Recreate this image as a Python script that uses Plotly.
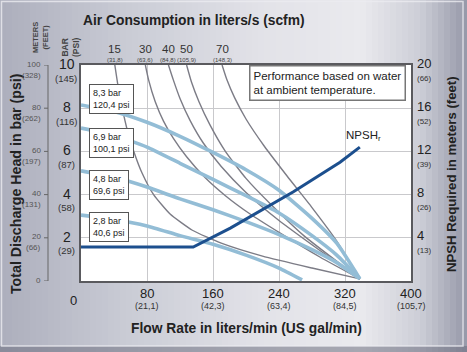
import plotly.graph_objects as go

# ---------------- data ----------------
# Pressure (performance) curves: flow (l/min) vs head (bar)
p83_flow = [0, 40, 80, 120, 160, 200, 240, 280, 310, 338]
p83_bar = [8.15, 7.85, 7.35, 6.7, 5.95, 5.15, 4.2, 2.9, 1.75, 0.1]
p69_flow = [0, 40, 80, 120, 160, 200, 240, 280, 310, 338]
p69_bar = [7.08, 6.75, 6.2, 5.45, 4.7, 3.95, 3.15, 2.1, 1.2, 0.1]
p48_flow = [0, 40, 80, 120, 160, 200, 240, 280, 310, 338]
p48_bar = [5.1, 4.8, 4.35, 3.8, 3.3, 2.75, 2.15, 1.45, 0.85, 0.1]
p28_flow = [0, 40, 80, 120, 160, 200, 240, 268]
p28_bar = [3.05, 2.85, 2.55, 2.1, 1.7, 1.2, 0.6, 0.05]
pressure_labels = ["8,3 bar<br>120,4 psi", "6,9 bar<br>100,1 psi",
                   "4,8 bar<br>69,6 psi", "2,8 bar<br>40,6 psi"]

# Air consumption curves
a15_flow = [41, 45, 50, 56, 64, 74, 88, 108, 135, 170, 220, 280, 338]
a15_bar = [10, 9.0, 8.0, 7.0, 6.0, 5.0, 4.0, 3.1, 2.35, 1.75, 1.15, 0.6, 0.1]
a30_flow = [78, 82, 90, 100, 112, 128, 150, 175, 205, 240, 290, 338]
a30_bar = [10, 9.3, 8.3, 7.4, 6.6, 5.75, 4.8, 3.95, 3.1, 2.25, 1.1, 0.1]
a40_flow = [106, 112, 120, 132, 148, 170, 200, 240, 290, 338]
a40_bar = [10, 9.3, 8.45, 7.45, 6.4, 5.3, 4.1, 2.8, 1.4, 0.1]
a50_flow = [128, 134, 143, 156, 175, 200, 230, 270, 338]
a50_bar = [10, 9.2, 8.3, 7.25, 6.0, 4.75, 3.55, 2.1, 0.1]
a70_flow = [171, 177, 186, 200, 222, 250, 280, 310, 338]
a70_bar = [10, 9.3, 8.5, 7.5, 6.25, 4.85, 3.4, 1.85, 0.1]
air_labels = ["15", "30", "40", "50", "70"]
air_sub = ["(31,8)", "(63,6)", "(84,8)", "(105,9)", "(148,3)"]

# NPSH required (meters)
npsh_flow = [0, 136, 181, 257, 314, 338]
npsh_m = [3.15, 3.15, 4.9, 8.24, 11.0, 12.4]

# Tick labels
x_ticks = [80, 160, 240, 320, 400]
x_sub = ["(21,1)", "(42,3)", "(63,4)", "(84,5)", "(105,7)"]
bar_ticks = [10, 8, 6, 4, 2]
psi_sub = ["(145)", "(116)", "(87)", "(58)", "(29)"]
m_ticks = [100, 80, 60, 40, 20, 0]
ft_sub = ["(328)", "(262)", "(197)", "(131)", "(66)", ""]
r_ticks = [20, 16, 12, 8, 4]
r_sub = ["(66)", "(52)", "(39)", "(26)", "(13)"]

# ---------------- figure ----------------
W, H = 467, 352
L, R, T, B = 81, 56, 65, 71
PW, PH = W - L - R, H - T - B
FONT = "Liberation Sans, Arial, sans-serif"

def px(x):
    return (x - L) / PW

def py(y):
    return (H - B - y) / PH

fig = go.Figure()

BLUE = "#93bdd6"
GRAY = "#7c7c86"

for fx, fy in [(a15_flow, a15_bar), (a30_flow, a30_bar), (a40_flow, a40_bar),
               (a50_flow, a50_bar), (a70_flow, a70_bar)]:
    fig.add_trace(go.Scatter(x=fx, y=fy, mode="lines",
                             line=dict(color=GRAY, width=1.4, shape="spline", smoothing=0.5),
                             hoverinfo="skip", showlegend=False))

pcurves = [(p83_flow, p83_bar), (p69_flow, p69_bar), (p48_flow, p48_bar), (p28_flow, p28_bar)]
for fx, fy in pcurves:
    fig.add_trace(go.Scatter(x=fx, y=fy, mode="lines",
                             line=dict(color=BLUE, width=3.6, shape="spline", smoothing=0.5),
                             hoverinfo="skip", showlegend=False))

fig.add_trace(go.Scatter(x=npsh_flow, y=npsh_m, mode="lines", yaxis="y2",
                         line=dict(color="#1c4f8e", width=3),
                         hoverinfo="skip", showlegend=False))

shapes = []
# background gradient
stops = [(0, (172, 174, 188)), (120, (200, 202, 212)), (260, (226, 226, 232)),
         (360, (234, 234, 238)), (420, (205, 206, 215)), (467, (150, 152, 168))]
def col_at(x):
    for i in range(len(stops) - 1):
        x0, c0 = stops[i]
        x1, c1 = stops[i + 1]
        if x0 <= x <= x1:
            t = (x - x0) / (x1 - x0)
            return "rgb(%d,%d,%d)" % tuple(round(c0[k] + (c1[k] - c0[k]) * t) for k in range(3))
    return "rgb(150,152,168)"
step = 6
for xs in range(0, W, step):
    shapes.append(dict(type="rect", xref="paper", yref="paper", layer="below",
                       x0=px(xs), x1=px(xs + step + 0.5), y0=py(H), y1=py(0),
                       fillcolor=col_at(xs + step / 2), line=dict(width=0)))
# bottom darker band
shapes.append(dict(type="rect", xref="paper", yref="paper", layer="below",
                   x0=px(0), x1=px(W), y0=py(H), y1=py(346),
                   fillcolor="rgba(110,112,128,0.55)", line=dict(width=0)))
# frame
shapes.append(dict(type="rect", xref="paper", yref="paper", layer="below",
                   x0=px(1.5), x1=px(W - 4), y0=py(346), y1=py(1.5),
                   fillcolor="rgba(0,0,0,0)", line=dict(color="rgba(235,235,240,0.8)", width=1.5)))
# plot area white
shapes.append(dict(type="rect", xref="paper", yref="paper", layer="below",
                   x0=0, x1=1, y0=0, y1=1, fillcolor="white", line=dict(width=0)))
# meters axis line and ticks
shapes.append(dict(type="line", xref="paper", yref="paper", x0=px(48), x1=px(48),
                   y0=0, y1=1, line=dict(color="#666", width=1)))
for m in m_ticks:
    shapes.append(dict(type="line", xref="paper", yref="y", x0=px(44), x1=px(48),
                       y0=m / 10, y1=m / 10, line=dict(color="#666", width=1)))

ann = []
def A(text, x, y, size, xref="paper", yref="paper", color="#222", bold=False,
      xanchor="center", yanchor="middle", **kw):
    if bold:
        text = "<b>" + text + "</b>"
    d = dict(text=text, x=x, y=y, xref=xref, yref=yref, showarrow=False,
             font=dict(family=FONT, size=size, color=color),
             xanchor=xanchor, yanchor=yanchor)
    d.update(kw)
    ann.append(d)

# titles
A("Air Consumption in liters/s (scfm)", px(81), py(20), 13.8, bold=True, xanchor="left")
A("Flow Rate in liters/min (US gal/min)", px(246), py(328), 13.8, bold=True)
A("Total Discharge Head in bar (psi)", px(16), py(184), 14.2, bold=True, textangle=-90)
A("NPSH Required in meters (feet)", px(451), py(174), 13.2, bold=True, textangle=-90)
A("METERS<br>(FEET)", px(40), py(38), 7.5, bold=True, color="#444", textangle=-90)
A("BAR<br>(PSI)", px(70), py(47), 8.5, bold=True, color="#444", textangle=-90)

# bottom ticks
A("0", px(73), py(300), 13)
for v, s in zip(x_ticks, x_sub):
    A(str(v), v, py(293), 13, xref="x")
    A(s, v, py(306), 9, xref="x", color="#333")
# left bar ticks
for v, s in zip(bar_ticks, psi_sub):
    A(str(v), px(67), v, 14, yref="y", yshift=1)
    A(s, px(66), v, 9.5, yref="y", yshift=-13, color="#333")
# meters ticks
for v, s in zip(m_ticks, ft_sub):
    A(str(v), px(43), v / 10, 8, yref="y", xanchor="right", color="#555", yshift=1)
    if s:
        A(s, px(43), v / 10, 8, yref="y", xanchor="right", color="#555", yshift=-10)
# right ticks
for v, s in zip(r_ticks, r_sub):
    A(str(v), px(415), v, 13, yref="y2", xanchor="left", yshift=2)
    A(s, px(415), v, 8, yref="y2", xanchor="left", color="#333", yshift=-13)
# air labels
air_x = [a15_flow[0], a30_flow[0], a40_flow[0], a50_flow[0], a70_flow[0]]
for x, l, s in zip(air_x, air_labels, air_sub):
    A(l, x, py(49), 11.5, xref="x", color="#333")
    A(s, x, py(60), 6, xref="x", color="#444")

# pressure label boxes
box_y = [99, 143, 184.5, 226.5]
for t, yb in zip(pressure_labels, box_y):
    A(t, px(89), py(yb), 9, xanchor="left", align="left", bgcolor="white",
      bordercolor="#555", borderwidth=1, borderpad=3, color="#222")

# performance note
A("Performance based on water<br>at ambient temperature.", px(249), py(83), 11.5,
  xanchor="left", align="left", bgcolor="white", bordercolor="#777", borderwidth=1.5,
  borderpad=3, color="#222")
A("NPSH<sub>r</sub>", px(363), py(136), 11.5, color="#222")

fig.update_layout(
    width=W, height=H, autosize=False,
    margin=dict(l=L, r=R, t=T, b=B, pad=0),
    paper_bgcolor="#c8c9d2", plot_bgcolor="rgba(0,0,0,0)",
    shapes=shapes, annotations=ann, showlegend=False,
    xaxis=dict(range=[0, 400], dtick=80, showticklabels=False, ticks="",
               showgrid=True, gridcolor="#c9c9cc", gridwidth=1, zeroline=False,
               showline=True, linecolor="#5a5a5e", linewidth=2, mirror=True, fixedrange=True),
    yaxis=dict(range=[0, 10], dtick=2, showticklabels=False, ticks="",
               showgrid=True, gridcolor="#c9c9cc", gridwidth=1, zeroline=False,
               showline=True, linecolor="#5a5a5e", linewidth=2, mirror=True, fixedrange=True),
    yaxis2=dict(range=[0, 20], overlaying="y", side="right", showticklabels=False,
                showgrid=False, zeroline=False, ticks="", fixedrange=True),
)

fig.write_html("out.html")
